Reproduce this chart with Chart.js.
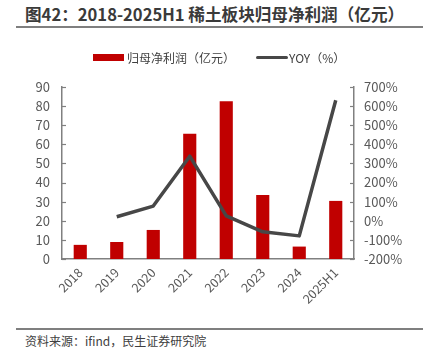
<!DOCTYPE html>
<html><head><meta charset="utf-8">
<script src="https://cdn.jsdelivr.net/npm/chart.js@4"></script>
<style>
html,body{margin:0;padding:0;background:#fff;width:425px;height:356px;overflow:hidden;font-family:"Noto Sans CJK SC","Noto Sans",sans-serif;}
#title{position:absolute;left:25px;top:2px;font-size:16.6px;font-weight:bold;color:#3a3a3a;white-space:nowrap;}
#tline{position:absolute;left:16px;top:26px;width:407px;height:2px;background:#7f7f7f;}
#bline{position:absolute;left:16px;top:328px;width:407px;height:2px;background:#7f7f7f;}
#src{position:absolute;left:25px;top:332px;font-size:12px;color:#404040;white-space:nowrap;}
#wrap{position:absolute;left:0;top:30px;width:425px;height:295px;}
.lg{position:absolute;font-size:12px;color:#404040;white-space:nowrap;top:49px;}
#lb1{position:absolute;left:93px;top:54px;width:31px;height:7px;background:#c00000;}
#lb2{position:absolute;left:256px;top:56px;width:32px;height:3px;background:#474747;border-radius:2px;}
</style></head><body>
<div id="title">图42：2018-2025H1 稀土板块归母净利润（亿元）</div>
<div id="tline"></div>
<div id="wrap"><canvas id="c"></canvas></div>
<div id="lb1"></div><div class="lg" id="lt1" style="left:127px"></div>
<div id="lb2"></div><div class="lg" id="lt2" style="left:289px"></div>
<div id="bline"></div>
<div id="src">资料来源：ifind，民生证券研究院</div>
<script>
const categories = ["2018","2019","2020","2021","2022","2023","2024","2025H1"];
const netProfit = [7.4, 8.9, 15.2, 65.6, 82.6, 33.5, 6.5, 30.4];
const yoy = [null, 21, 77, 338, 26, -58, -79, 631];
const leftTicks = [0,10,20,30,40,50,60,70,80,90];
const rightTicks = [-200,-100,0,100,200,300,400,500,600,700];
const seriesNames = ['归母净利润（亿元）','YOY（%）'];
document.getElementById('lt1').textContent = seriesNames[0];
document.getElementById('lt2').textContent = seriesNames[1];

const innerTicks = {
  id:'innerTicks',
  afterDraw(chart){
    const ctx = chart.ctx;
    ctx.save();
    ctx.strokeStyle = '#808080'; ctx.lineWidth = 1.2;
    const ys = chart.scales.y, yr = chart.scales.y1;
    ys.ticks.forEach(t=>{ const p = Math.round(ys.getPixelForValue(t.value))+0.5; ctx.beginPath(); ctx.moveTo(ys.right, p); ctx.lineTo(ys.right+4, p); ctx.stroke(); });
    yr.ticks.forEach(t=>{ const p = Math.round(yr.getPixelForValue(t.value))+0.5; ctx.beginPath(); ctx.moveTo(yr.left, p); ctx.lineTo(yr.left-4, p); ctx.stroke(); });
    ctx.restore();
  }
};

const tickFont = {family:'"Noto Sans CJK SC","Noto Sans",sans-serif', size:13};
new Chart(document.getElementById('c'), {
  data: {
    labels: categories,
    datasets: [
      {type:'bar', label:seriesNames[0], data: netProfit, backgroundColor:'#c00000', yAxisID:'y', barPercentage:0.36, categoryPercentage:1, order:2},
      {type:'line', label:seriesNames[1], data: yoy, borderColor:'#474747', borderWidth:3.5, pointRadius:0, yAxisID:'y1', tension:0, order:1, borderJoinStyle:'round'}
    ]
  },
  plugins:[innerTicks],
  options: {
    responsive:true, maintainAspectRatio:false, animation:false,
    layout:{padding:{top:57,bottom:0,left:0,right:0}},
    plugins:{ legend:{display:false}, tooltip:{enabled:false} },
    scales:{
      x:{grid:{display:false, drawTicks:false}, border:{color:'#808080', width:1.5},
         ticks:{font:{family:tickFont.family,size:12.5}, color:'#595959', maxRotation:45, minRotation:45, padding:6},
         afterFit(s){ s.height = 66; }},
      y:{position:'left', min:0, max:90, afterBuildTicks(s){ s.ticks = leftTicks.map(v=>({value:v})); },
         grid:{display:false, drawTicks:false}, border:{color:'#808080', width:1.5},
         ticks:{font:tickFont, color:'#595959', padding:12},
         afterFit(s){ s.width = 62; }},
      y1:{position:'right', min:-200, max:700, afterBuildTicks(s){ s.ticks = rightTicks.map(v=>({value:v})); },
         grid:{display:false, drawTicks:false}, border:{color:'#808080', width:1.5},
         ticks:{font:tickFont, color:'#595959', padding:10, callback:v=>v+'%'},
         afterFit(s){ s.width = 71; }}
    }
  }
});
</script>
</body></html>
